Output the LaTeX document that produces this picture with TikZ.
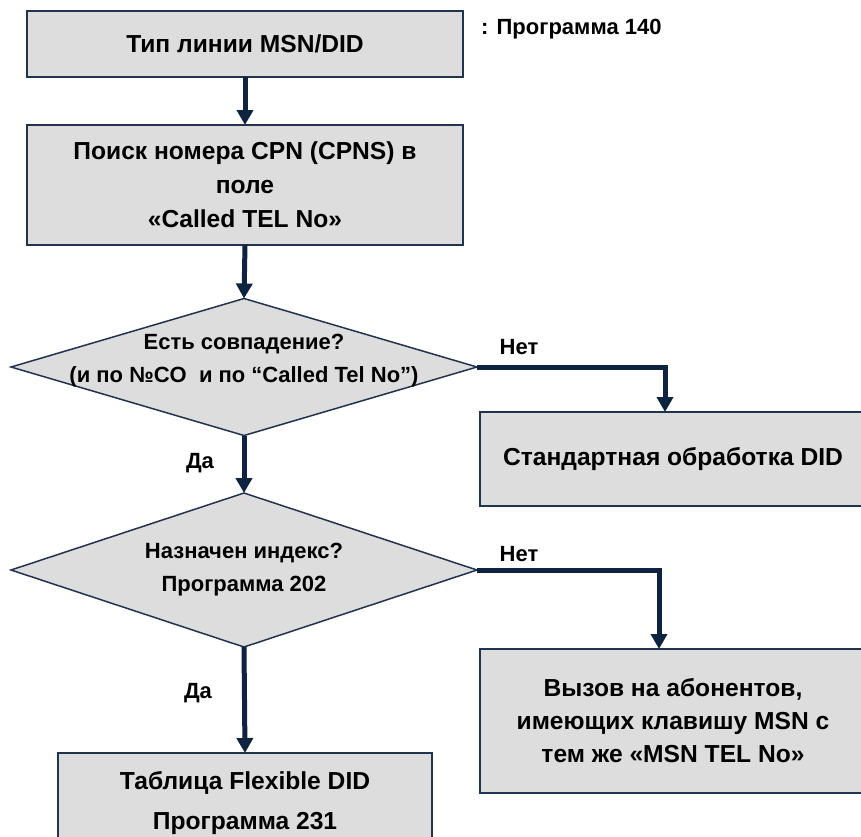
\documentclass[tikz,border=0pt]{standalone}
\usepackage{fontspec}
\setmainfont{Liberation Sans}
\usetikzlibrary{shapes.geometric,arrows.meta,calc}
\definecolor{boxfill}{HTML}{DDDDDD}
\definecolor{boxline}{HTML}{22334F}
\definecolor{arrowc}{HTML}{0E2340}
\tikzset{
  procbox/.style={draw=boxline,line width=1.8pt,fill=boxfill,rectangle,inner sep=0pt,outer sep=0pt,align=center,font=\bfseries\fontsize{24.6}{34}\selectfont},
  decbox/.style={draw=boxline,line width=1.5pt,fill=boxfill,diamond,inner sep=0pt,outer sep=0pt},
  txt/.style={align=center,inner sep=0pt,font=\bfseries\fontsize{22}{33}\selectfont},
  flow/.style={draw=arrowc,line width=5pt,-{Triangle[width=16pt,length=15pt]}},
}
\begin{document}
\begin{tikzpicture}[x=1pt,y=-1pt]
\useasboundingbox (0,0) rectangle (861,836);
\clip (0,0) rectangle (861,836);
\node[procbox,minimum width=436pt,minimum height=66pt] (b1) at (245,44) {Тип линии MSN/DID};
\node[txt,anchor=west] (p140) at (481,29) {: Программа 140};
\node[procbox,minimum width=436pt,minimum height=120pt] (b2) at (245,185) {Поиск номера CPN (CPNS) в\\поле\\«Called TEL No»};
\node[decbox,minimum width=466pt,minimum height=137pt] (d1) at (244,367) {};
\node[txt] (d1t) at (244,361) {Есть совпадение?\\(и по №CO\ \ и по “Called Tel No”)};
\node[procbox,minimum width=386pt,minimum height=94pt] (std) at (673,459) {Стандартная обработка DID};
\node[decbox,minimum width=466pt,minimum height=154pt] (d2) at (244,570) {};
\node[txt] (d2t) at (244,570) {Назначен индекс?\\Программа 202};
\node[procbox,font=\bfseries\fontsize{24.6}{33}\selectfont,minimum width=386pt,minimum height=144pt] (b3) at (673,721) {Вызов на абонентов,\\имеющих клавишу MSN с\\тем же «MSN TEL No»};
\node[procbox,minimum width=374pt,minimum height=117pt] (b4) at (245,811.5) {};
\node[txt,font=\bfseries\fontsize{24.6}{40}\selectfont] (b4t) at (245,803) {Таблица Flexible DID\\Программа 231};
\draw[flow] (b1.south) -- (b2.north);
\draw[flow] (b2.south) -- (d1.north);
\draw[flow] (d1.south) -- (d2.north);
\draw[flow] (d2.south) -- (b4.north);
\draw[flow] (d1.east) -| ([xshift=-8pt]std.north);
\draw[flow] (d2.east) -| ([xshift=-14pt]b3.north);
\node[txt] (no1) at (519,347) {Нет};
\node[txt] (no2) at (519,554) {Нет};
\node[txt] (yes1) at (200,463) {Да};
\node[txt] (yes2) at (198,693) {Да};
\end{tikzpicture}
\end{document}
